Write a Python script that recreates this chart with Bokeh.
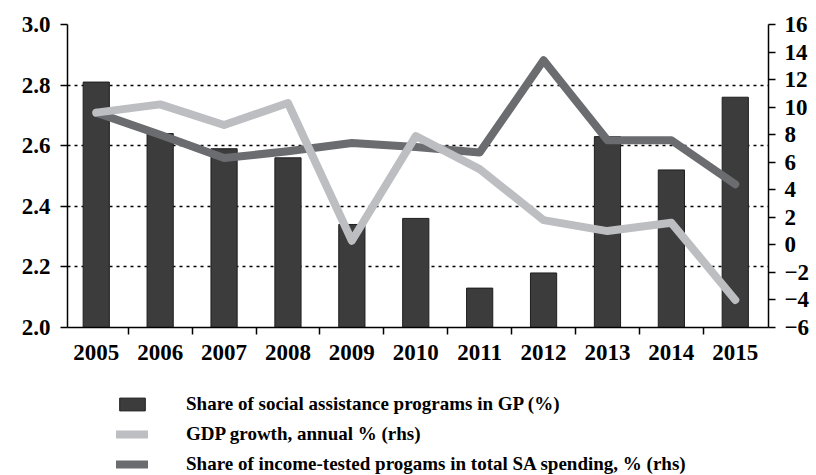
from bokeh.plotting import figure
from bokeh.layouts import column
from bokeh.models import Range1d, LinearAxis, FixedTicker, Legend, LegendItem, ColumnDataSource
from bokeh.embed import file_html
from bokeh.resources import INLINE

years = [2005, 2006, 2007, 2008, 2009, 2010, 2011, 2012, 2013, 2014, 2015]
sa_share_gdp = [2.81, 2.64, 2.59, 2.56, 2.34, 2.36, 2.13, 2.18, 2.63, 2.52, 2.76]
gdp_growth = [9.6, 10.2, 8.7, 10.3, 0.3, 7.9, 5.5, 1.8, 1.0, 1.6, -4.0]
income_tested = [9.6, 8.0, 6.3, 6.8, 7.4, 7.1, 6.7, 13.4, 7.6, 7.6, 4.4]

left_ticks = [2.0, 2.2, 2.4, 2.6, 2.8, 3.0]
right_ticks = [-6, -4, -2, 0, 2, 4, 6, 8, 10, 12, 14, 16]
boundary_ticks = [y + 0.5 for y in years[:-1]]

labels = ["Share of social assistance programs in GP (%)",
          "GDP growth, annual % (rhs)",
          "Share of income-tested progams in total SA spending, % (rhs)"]

FONT = "Liberation Serif"
BAR_FILL = "#3c3c3c"
BAR_LINE = "#1e1e1e"
GDP_COLOR = "#bdbec1"
INC_COLOR = "#6b6c70"

src = ColumnDataSource(dict(year=years, share=sa_share_gdp, gdp=gdp_growth, inc=income_tested))

p = figure(width=814, height=370, x_range=Range1d(2004.55, 2015.52), y_range=Range1d(2.0, 3.0),
           output_backend="svg", toolbar_location=None,
           min_border_left=67, min_border_right=46, min_border_top=24, min_border_bottom=43)
p.outline_line_color = None
p.extra_y_ranges = {"rhs": Range1d(-6, 16)}

bars = p.vbar(x="year", top="share", bottom=2.0, width=0.41, source=src,
              fill_color=BAR_FILL, line_color=BAR_LINE, line_width=1)
l_inc = p.line(x="year", y="inc", source=src, y_range_name="rhs", line_width=8,
               line_color=INC_COLOR, line_cap="round", line_join="round")
l_gdp = p.line(x="year", y="gdp", source=src, y_range_name="rhs", line_width=8,
               line_color=GDP_COLOR, line_cap="round", line_join="round")

# grid
p.xgrid.visible = False
p.ygrid.ticker = FixedTicker(ticks=left_ticks)
p.ygrid.grid_line_color = "black"
p.ygrid.grid_line_dash = "3 4"
p.ygrid.grid_line_width = 1.3

def style_axis(ax):
    ax.axis_line_color = "black"
    ax.axis_line_width = 1.5
    ax.major_tick_line_color = "black"
    ax.major_tick_line_width = 1.5
    ax.minor_tick_line_color = None
    ax.major_label_text_font = FONT
    ax.major_label_text_font_style = "bold"
    ax.major_label_text_font_size = "23px"
    ax.major_label_text_color = "black"

# x axis
xa = p.xaxis[0]
style_axis(xa)
xa.ticker = FixedTicker(ticks=years, minor_ticks=boundary_ticks)
xa.major_tick_in = 0
xa.major_tick_out = 0
xa.minor_tick_line_color = "black"
xa.minor_tick_line_width = 1.5
xa.minor_tick_in = 0
xa.minor_tick_out = 7
xa.major_label_standoff = 10

# left y axis
ya = p.yaxis[0]
style_axis(ya)
ya.ticker = FixedTicker(ticks=left_ticks)
ya.major_tick_in = 0
ya.major_tick_out = 7
ya.major_label_standoff = 10
ya.major_label_overrides = {t: f"{t:.1f}" for t in left_ticks}

# right y axis
ra = LinearAxis(y_range_name="rhs", ticker=FixedTicker(ticks=right_ticks))
style_axis(ra)
ra.major_tick_in = 0
ra.major_tick_out = 7
ra.major_label_standoff = 9
ra.major_label_overrides = {t: (("\u2212" + str(-t)) if t < 0 else str(t)) for t in right_ticks}
p.add_layout(ra, "right")

# legend panel below the chart: same series as style proxies, mapped far outside its view
q = figure(width=814, height=105, x_range=Range1d(2004.55, 2015.52), y_range=Range1d(1000, 1001),
           output_backend="svg", toolbar_location=None,
           min_border_left=0, min_border_right=0, min_border_top=0, min_border_bottom=0)
q.axis.visible = False
q.grid.visible = False
q.outline_line_color = None
pb = q.vbar(x="year", top="share", bottom=2.0, width=0.41, source=src,
            fill_color=BAR_FILL, line_color=BAR_LINE, line_width=1)
pg = q.line(x="year", y="gdp", source=src, line_width=8, line_color=GDP_COLOR, line_cap="round")
pi = q.line(x="year", y="inc", source=src, line_width=8, line_color=INC_COLOR, line_cap="round")

legend = Legend(items=[LegendItem(label=labels[0], renderers=[pb]),
                       LegendItem(label=labels[1], renderers=[pg]),
                       LegendItem(label=labels[2], renderers=[pi])],
                location=(49, 0))
legend.label_text_font = FONT
legend.label_text_font_style = "bold"
legend.label_text_font_size = "19px"
legend.label_text_color = "black"
legend.border_line_color = None
legend.background_fill_alpha = 0
legend.padding = 0
legend.margin = 0
legend.spacing = 8
legend.glyph_width = 32
legend.glyph_height = 16
legend.label_height = 20
legend.label_standoff = 38
q.add_layout(legend, "center")

layout = column(p, q, spacing=0)
open("out.html", "w").write(file_html(layout, INLINE))
